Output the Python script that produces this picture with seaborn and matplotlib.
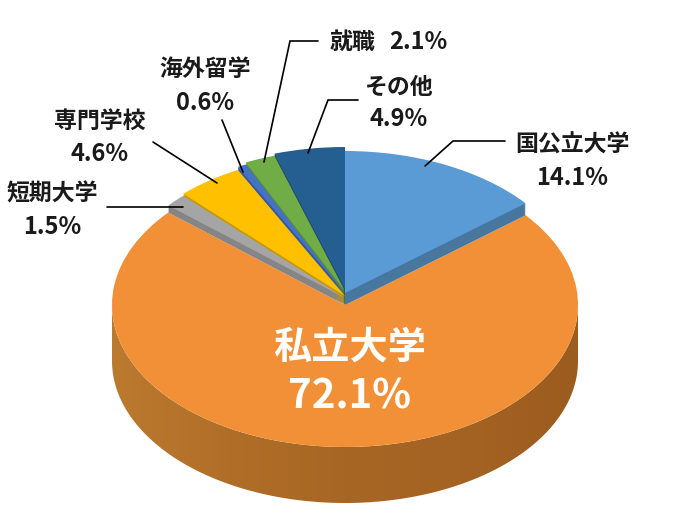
import matplotlib
matplotlib.use('Agg')
import matplotlib.pyplot as plt
from matplotlib.patches import Polygon
import seaborn as sns
import numpy as np

# clockwise from 12 o'clock
names = ['国公立大学', '私立大学', '短期大学', '専門学校', '海外留学', '就職', 'その他']
shares = [14.1, 72.1, 1.5, 4.6, 0.6, 2.1, 4.9]
top_colors = ['#5B9BD5', '#F19036', '#A5A5A5', '#FFC000', '#4472C4', '#70AD47', '#255E91']
side_colors = ['#47769F', '#C47A2E', '#858585', '#C99700', '#345A9C', '#5A8C38', '#1C4870']
# how far each slice is lifted above the orange surface, pixels
lift = [12, 0, 7, 9, 12, 14, 16]

# wall shading, left to right
wall_stops = ['#BC7A2F', '#B06E28', '#A86625', '#A56323', '#9B5C1F']

# text, pixel positions in the 700x517 frame
labels = [
    ('国公立大学', 572, 145, 16.5), ('14.1%', 572, 178, 17),
    ('その他', 399, 87, 16.5), ('4.9%', 399, 119, 17),
    ('就職', 352, 42, 16.5), ('2.1%', 418, 42, 17),
    ('海外留学', 205, 69, 16.5), ('0.6%', 205, 103, 17),
    ('専門学校', 100, 121, 16.5), ('4.6%', 100, 154, 17),
    ('短期大学', 52, 194, 16.5), ('1.5%', 52, 227, 17),
]
leaders = [
    [(425, 166), (453, 141), (505, 141)],
    [(308, 153), (328, 100), (358, 100)],
    [(264, 162), (290, 41), (318, 41)],
    [(222, 120), (243, 172)],
    [(153, 142), (217, 183)],
    [(107, 207), (183, 207)],
]

CX, CY, RX, RY, DEPTH = 345, 305, 233, 142, 56

sns.set_theme(style='white')
plt.rcParams['font.family'] = ['Noto Sans CJK JP', 'DejaVu Sans']

fig = plt.figure(figsize=(7, 5.17), dpi=100)
ax = fig.add_axes([0, 0, 1, 1])


def draw_slice(i, dy, color):
    wedges, _ = ax.pie(shares, startangle=90, counterclock=False, radius=1,
                       center=(0, dy / RY), colors=[color] * len(shares),
                       wedgeprops={'linewidth': 0})
    for j, w in enumerate(wedges):
        if j != i:
            w.set_visible(False)


# outer wall of the big slice
theta = np.linspace(np.pi, 2 * np.pi, 200)
wall_x = np.r_[np.cos(theta), np.cos(theta)[::-1]]
wall_y = np.r_[np.sin(theta) - DEPTH / RY, np.sin(theta)[::-1]]
wall = Polygon(np.c_[wall_x, wall_y], closed=True, facecolor='none', edgecolor='none')
ax.add_patch(wall)
im = ax.imshow(np.linspace(0, 1, 256).reshape(1, -1), extent=(-1, 1, -1.5, 0.2),
               cmap=sns.blend_palette(wall_stops, as_cmap=True), aspect='auto')
im.set_clip_path(wall)

draw_slice(1, 0, top_colors[1])

# cut faces first so the tops sit over them
for i in [0, 6, 5, 4, 3, 2]:
    for dy in range(0, lift[i]):
        draw_slice(i, dy, side_colors[i])
for i in [0, 2, 3, 4, 5, 6]:
    draw_slice(i, lift[i], top_colors[i])

ax.set_aspect('auto')
ax.set_xlim(-CX / RX, (700 - CX) / RX)
ax.set_ylim((CY - 517) / RY, CY / RY)
ax.axis('off')

# labels and leader lines in pixel space
over = fig.add_axes([0, 0, 1, 1])
over.set_xlim(0, 700)
over.set_ylim(517, 0)
over.axis('off')
over.patch.set_alpha(0)

for pts in leaders:
    xs, ys = zip(*pts)
    over.plot(xs, ys, color='black', lw=1.2, solid_joinstyle='miter')

for txt, x, y, size in labels:
    over.text(x, y, txt, fontsize=size, fontweight='bold', color='#1a1a1a',
              ha='center', va='center')

over.text(350, 347, '私立大学', fontsize=27.5, fontweight='bold', color='white', ha='center', va='center')
over.text(350, 397, '72.1%', fontsize=29, fontweight='bold', color='white', ha='center', va='center')

fig.savefig('out.png', dpi=100)
